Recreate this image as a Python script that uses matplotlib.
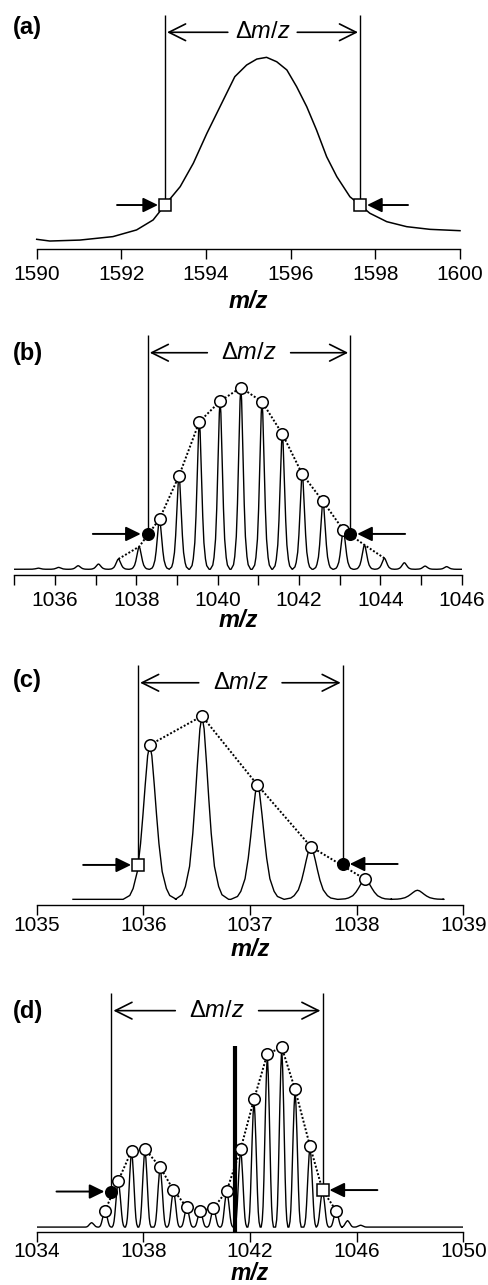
import matplotlib
matplotlib.use('Agg')
import matplotlib.pyplot as plt

plt.rcParams['font.family'] = ['Liberation Sans', 'DejaVu Sans']
plt.rcParams['mathtext.fontset'] = 'custom'
plt.rcParams['mathtext.rm'] = 'Liberation Sans'
plt.rcParams['mathtext.it'] = 'Liberation Sans:italic'

# (a) unresolved envelope, read point by point
a_mz = [1590.0, 1590.31, 1591.02, 1591.80, 1592.36, 1592.75, 1593.03, 1593.39,
        1593.70, 1594.02, 1594.37, 1594.68, 1594.96, 1595.20, 1595.43, 1595.67,
        1595.91, 1596.14, 1596.38, 1596.61, 1596.85, 1597.09, 1597.40, 1597.64,
        1597.87, 1598.27, 1598.74, 1599.29, 1600.0]
a_int = [4.8, 3.9, 4.4, 6.2, 9.7, 14.9, 22.7, 32.3,
         44.5, 60.1, 75.8, 89.7, 95.8, 98.9, 99.8, 97.5,
         93.2, 84.5, 74.0, 61.9, 47.9, 37.5, 27.0, 22.7,
         18.4, 14.0, 11.4, 10.0, 9.3]
a_edge_mz = [1593.03, 1597.64]
a_edge_int = [22.7, 22.7]

# (b) isotope peaks (apex m/z, apex intensity)
b_peak_mz = [1035.59, 1036.09, 1036.57, 1037.07, 1037.56, 1038.07, 1038.57, 1039.05,
             1039.55, 1040.06, 1040.57, 1041.09, 1041.59, 1042.08, 1042.59, 1043.09,
             1043.61, 1044.10, 1044.59, 1045.10, 1045.63]
b_peak_int = [3.4, 3.8, 4.7, 5.6, 8.3, 14.9, 29.7, 52.8,
              81.7, 92.7, 100.0, 92.4, 75.2, 53.7, 39.1, 23.8,
              15.8, 8.7, 6.3, 4.5, 4.2]
b_base = 2.8
b_span = (1035.0, 1046.0)
b_dotted = slice(4, 18)
b_circles = list(range(6, 16))
b_edge_mz = [1038.28, 1043.26]
b_edge_int = [21.7, 21.7]

# (c)
c_peak_mz = [1036.06, 1036.55, 1037.07, 1037.57, 1038.08, 1038.57]
c_peak_int = [84.7, 100.0, 63.5, 30.9, 13.6, 7.8]
c_base = 3.0
c_span = (1035.34, 1038.81)
c_dotted = slice(0, 5)
c_circles = [0, 1, 2, 3, 4]
c_edge_mz = [1035.95, 1037.87]
c_edge_int = [21.2, 21.7]

# (d)
d_peak_mz = [1036.06, 1036.56, 1037.06, 1037.56, 1038.06, 1038.63, 1039.13, 1039.63,
             1040.13, 1040.63, 1041.13, 1041.65, 1042.15, 1042.65, 1043.19, 1043.69,
             1044.25, 1044.72, 1045.23, 1045.66, 1046.15]
d_peak_int = [4.8, 11.3, 27.6, 43.9, 44.8, 34.9, 22.5, 13.1,
              11.3, 12.6, 22.2, 44.8, 71.8, 96.4, 100.0, 77.2,
              46.4, 22.5, 11.3, 5.9, 3.4]
d_base = 2.4
d_span = (1034.0, 1050.0)
d_dotted = slice(1, 19)
d_circles = [1, 2, 3, 4, 5, 6, 7, 8, 9, 10, 11, 12, 13, 14, 15, 16, 18]
d_edge_mz = [1036.80, 1044.72]
d_edge_int = [21.7, 22.5]
d_bar_mz = 1041.44
d_bar_int = 100.7

# peak profile (offset from apex in m/z, fraction of apex height)
narrow_dx = [-0.24, -0.18, -0.15, -0.112, -0.083, -0.061, -0.041, -0.019, 0.0,
             0.019, 0.041, 0.061, 0.083, 0.112, 0.15, 0.18, 0.24]
narrow_frac = [0.0, 0.025, 0.07, 0.18, 0.36, 0.55, 0.74, 0.93, 1.0,
               0.93, 0.74, 0.55, 0.36, 0.18, 0.07, 0.025, 0.0]
broad_dx = [-0.23, -0.19, -0.16, -0.13, -0.10, -0.07, -0.035, 0.0,
            0.035, 0.07, 0.10, 0.13, 0.16, 0.19, 0.23]
broad_frac = [0.0, 0.04, 0.12, 0.27, 0.48, 0.68, 0.88, 1.0,
              0.88, 0.68, 0.48, 0.27, 0.12, 0.04, 0.0]


def peak_trace(mz, inten, base, span, dx, frac):
    xs, ys = [span[0]], [base]
    for m, h in zip(mz, inten):
        xs += [m + d for d in dx]
        ys += [base + (h - base) * f for f in frac]
    xs.append(span[1])
    ys.append(base)
    return xs, ys


W, H = 489, 1285
fig = plt.figure(figsize=(W / 100, H / 100), dpi=100)


def panel(x0, x1, y_axis, y_top, xlim, top, major, minor, pad, y_label, lab_size=17):
    ax = fig.add_axes([x0 / W, 1 - y_axis / H, (x1 - x0) / W, (y_axis - y_top) / H])
    ax.set_xlim(*xlim)
    ax.set_ylim(0, top)
    for s in ('left', 'right', 'top'):
        ax.spines[s].set_visible(False)
    ax.spines['bottom'].set_linewidth(1.0)
    ax.set_yticks([])
    ax.set_xticks(major)
    if minor:
        ax.set_xticks(minor, minor=True)
    ax.tick_params(axis='x', which='both', direction='out', length=7, width=1.0,
                   labelsize=15, pad=pad)
    ax.patch.set_alpha(0)
    fig.text((x0 + x1) / 2 / W, 1 - y_label / H, 'm/z', fontsize=lab_size,
             fontweight='bold', fontstyle='italic', ha='center', va='center')
    return ax


def width_arrows(ax, xl, xr, gap):
    xc = (xl + xr) / 2
    yy = 0.926
    tr = ax.get_xaxis_transform()
    ax.text(xc, yy, r'$\Delta m/z$', transform=tr, ha='center', va='center', fontsize=17)
    for xe in (xl, xr):
        ax.annotate('', xy=(xe, yy), xytext=(xc, yy), xycoords=tr, textcoords=tr,
                    arrowprops=dict(arrowstyle='->,head_length=0.4,head_width=0.2',
                                    mutation_scale=30, lw=1.2, color='black',
                                    shrinkA=gap, shrinkB=1.5))


def side_arrows(ax, xs, ys, dist):
    for x, y, sgn in zip(xs, ys, (-1, 1)):
        ax.annotate('', xy=(x, y), xytext=(sgn * dist, 0), textcoords='offset points',
                    arrowprops=dict(arrowstyle='-|>,head_length=0.45,head_width=0.22',
                                    mutation_scale=20, lw=1.4, color='black',
                                    shrinkA=0, shrinkB=5))


def edges(ax, xs, ys, top, styles):
    ax.vlines(xs, ys, [top, top], colors='black', lw=1.0, zorder=3)
    for x, y, fc in zip(xs, ys, styles):
        mk = 's' if fc == 'white' else 'o'
        ax.plot([x], [y], mk, ms=8.3, mfc=fc, mec='black', mew=1.1, zorder=5)


def circles(ax, mz, inten, dotted, circ):
    ax.plot(mz[dotted], inten[dotted], color='black', lw=1.4, ls=(0, (1, 1)), zorder=2)
    ax.plot([mz[i] for i in circ], [inten[i] for i in circ], 'o', ms=8.3,
            mfc='white', mec='black', mew=1.1, zorder=4)


def panel_label(txt, y_px):
    fig.text(13 / W, 1 - y_px / H, txt, fontsize=17, fontweight='bold',
             ha='left', va='center')


# ---------- (a) ----------
top_a = 121.9
ax = panel(36.7, 460, 248.5, 15, (1590, 1600), top_a, range(1590, 1601, 2), None, 4.8, 301)
ax.plot(a_mz, a_int, color='black', lw=1.1, clip_on=False)
edges(ax, a_edge_mz, a_edge_int, top_a, ['white', 'white'])
width_arrows(ax, a_edge_mz[0], a_edge_mz[1], 25)
side_arrows(ax, a_edge_mz, a_edge_int, 34.5)
panel_label('(a)', 27.5)

# ---------- (b) ----------
top_b = 128.1
ax = panel(14.3, 461.7, 574.5, 335, (1035, 1046), top_b, range(1036, 1047, 2),
           range(1035, 1046, 2), 5.0, 620)
bx, by = peak_trace(b_peak_mz, b_peak_int, b_base, b_span, narrow_dx, narrow_frac)
ax.plot(bx, by, color='black', lw=1.0)
circles(ax, b_peak_mz, b_peak_int, b_dotted, b_circles)
edges(ax, b_edge_mz, b_edge_int, top_b, ['black', 'black'])
width_arrows(ax, b_edge_mz[0], b_edge_mz[1], 30)
side_arrows(ax, b_edge_mz, b_edge_int, 39.5)
panel_label('(b)', 353.3)

# ---------- (c) ----------
top_c = 127.0
ax = panel(36.7, 463.3, 905, 665, (1035, 1039), top_c, range(1035, 1040), None, 0.8, 949)
cx, cy = peak_trace(c_peak_mz, c_peak_int, c_base, c_span,
                    [d * 1.04 for d in narrow_dx], narrow_frac)
ax.plot(cx, cy, color='black', lw=1.0)
circles(ax, c_peak_mz, c_peak_int, c_dotted, c_circles)
edges(ax, c_edge_mz, c_edge_int, top_c, ['white', 'black'])
width_arrows(ax, c_edge_mz[0], c_edge_mz[1], 30)
side_arrows(ax, c_edge_mz, c_edge_int, 39.5)
panel_label('(c)', 680)

# ---------- (d) ----------
top_d = 129.5
ax = panel(36.7, 463.3, 1231.5, 993, (1034, 1050), top_d, range(1034, 1051, 4), None, 0.8,
           1274, lab_size=16.5)
dx_, dy_ = peak_trace(d_peak_mz, d_peak_int, d_base, d_span, broad_dx, broad_frac)
ax.plot(dx_, dy_, color='black', lw=1.0)
ax.vlines([d_bar_mz], [0], [d_bar_int], colors='black', lw=3.0, zorder=3)
circles(ax, d_peak_mz, d_peak_int, d_dotted, d_circles)
edges(ax, d_edge_mz, d_edge_int, top_d, ['black', 'white'])
width_arrows(ax, d_edge_mz[0], d_edge_mz[1], 30)
side_arrows(ax, d_edge_mz, d_edge_int, 39.5)
panel_label('(d)', 1011.7)

fig.savefig('out.png', dpi=100)
